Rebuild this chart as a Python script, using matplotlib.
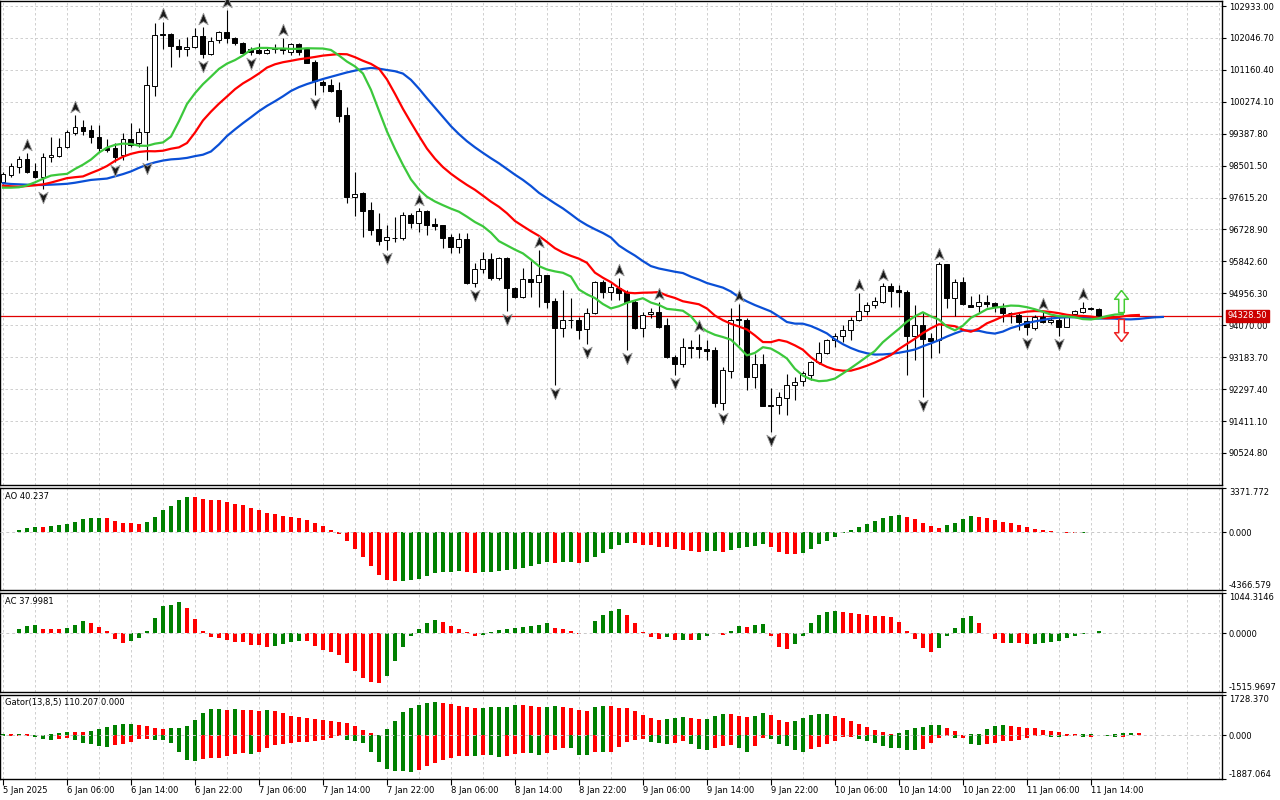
import numpy as np
import pandas as pd
import matplotlib
matplotlib.use("Agg")
import matplotlib.pyplot as plt
from matplotlib.path import Path
from matplotlib import transforms

plt.rcParams['font.family'] = ['DejaVu Sans']

# ---- data (H1 bars from 5 Jan 2025 22:00) ----
start_time = "2025-01-05 22:00"

opens = [98048, 98242, 98464, 98686, 98353, 98187, 98742, 98770, 99019, 99408,
         99575, 99491, 99297, 98992, 98992, 98797, 99241, 99130, 99436, 100713,
         102156, 102156, 101823, 101740, 101795, 102101, 101601, 101990, 102212, 102045,
         101906, 101740, 101712, 101629, 101740, 101768, 101657, 101879, 101740, 101379,
         100824, 100740, 100602, 99908, 97631, 97742, 97270, 96743, 96438, 96493,
         96493, 97132, 96910, 97243, 96882, 96854, 96521, 96243, 96465, 95244,
         95633, 95910, 95383, 95938, 95105, 94855, 95355, 95272, 95466, 94744,
         93995, 94217, 94217, 93967, 94411, 95272, 94994, 95105, 94994, 94717,
         93995, 94383, 94439, 94078, 93190, 92995, 93440, 93468, 93412, 93384,
         91913, 92801, 94217, 94217, 92635, 92995, 91829, 91857, 92051, 92412,
         92524, 92690, 93051, 93301, 93662, 93773, 93939, 94217, 94467, 94633,
         94717, 95161, 95050, 94994, 93773, 94078, 93717, 93662, 95772, 94828,
         95272, 94633, 94606, 94717, 94689, 94550, 94411, 94356, 94189, 93995,
         94300, 94161, 94217, 94023, 94383, 94439, 94550, 94522]
highs = [98325, 98575, 98770, 98853, 98575, 98853, 99297, 99269, 99491, 99908,
         99769, 99630, 99630, 99241, 99130, 99408, 99686, 99547, 101268, 102462,
         102489, 102184, 102017, 102073, 102323, 102350, 102073, 102239, 102822, 102073,
         101934, 101795, 101906, 101795, 101879, 102045, 101906, 101906, 101768, 101434,
         100879, 100907, 100824, 100130, 98325, 97770, 97492, 97187, 96854, 97076,
         97215, 97187, 97326, 97270, 97048, 96854, 96604, 96632, 96632, 95799,
         96105, 96077, 95966, 95966, 95133, 95660, 95855, 96160, 95466, 94828,
         95050, 94828, 94300, 94550, 95300, 95327, 95244, 95383, 95050, 94772,
         94439, 94550, 94717, 94272, 93245, 93717, 93662, 93829, 93662, 93468,
         92912, 94550, 94661, 94272, 93273, 93273, 92329, 92218, 92718, 92635,
         92801, 93079, 93606, 93690, 93856, 94078, 94300, 94966, 94717, 94855,
         95244, 95244, 95189, 95050, 94633, 94439, 93856, 95827, 95772, 95355,
         95411, 94883, 94939, 94911, 94717, 94689, 94439, 94411, 94300, 94356,
         94439, 94300, 94300, 94356, 94494, 94717, 94578, 94550]
lows = [97992, 98187, 98297, 98297, 98159, 97853, 98603, 98742, 98992, 99352,
        99352, 99130, 98880, 98880, 98603, 98658, 99019, 99019, 98658, 100435,
        101740, 101240, 101518, 101545, 101768, 101490, 101573, 101906, 101906, 101851,
        101615, 101573, 101601, 101601, 101629, 101601, 101573, 101573, 101337, 100463,
        100546, 100546, 99713, 97465, 97104, 96521, 96576, 96299, 96160, 96382,
        96438, 96771, 96660, 96576, 96715, 96216, 96077, 96077, 95216, 95133,
        95522, 95327, 95327, 94467, 94828, 94828, 94855, 94578, 94550, 92412,
        93745, 93995, 93689, 93551, 94383, 94828, 94772, 94772, 93384, 93967,
        93745, 94272, 93995, 93162, 92690, 92912, 93162, 93162, 93107, 91802,
        91719, 92607, 93523, 92274, 92329, 91829, 91108, 91608, 91580, 91996,
        92385, 92551, 92995, 93273, 93468, 93606, 93662, 94189, 94356, 94550,
        94689, 94578, 94578, 92690, 93107, 92079, 93162, 93301, 94550, 94328,
        94633, 94578, 94439, 94578, 94439, 94161, 94133, 93939, 93800, 93939,
        94133, 94106, 93773, 94023, 94300, 94411, 94494, 94300]
closes = [98270, 98492, 98686, 98325, 98187, 98742, 98797, 99019, 99436, 99575,
          99464, 99297, 98992, 98936, 98742, 99241, 99075, 99436, 100740, 102128,
          102128, 101823, 101740, 101795, 102101, 101601, 101962, 102212, 102045, 101906,
          101629, 101657, 101629, 101712, 101768, 101712, 101879, 101657, 101351, 100851,
          100740, 100574, 99880, 97631, 97715, 97243, 96715, 96410, 96521, 96479,
          97132, 96910, 97243, 96854, 96826, 96493, 96243, 96465, 95244, 95633,
          95910, 95383, 95938, 95105, 94855, 95355, 95272, 95466, 94717, 93995,
          94217, 94203, 93939, 94411, 95272, 94994, 95133, 94966, 94717, 93995,
          94356, 94439, 94023, 93190, 92995, 93468, 93468, 93412, 93357, 91913,
          92829, 94217, 94244, 92635, 92995, 91829, 91843, 92079, 92412, 92496,
          92746, 93051, 93301, 93662, 93773, 93939, 94217, 94467, 94633, 94744,
          95161, 95022, 94994, 93773, 94078, 93690, 93634, 95772, 94828, 95272,
          94661, 94578, 94717, 94661, 94606, 94411, 94397, 94161, 94023, 94300,
          94161, 94217, 94023, 94300, 94467, 94550, 94522, 94328.5]

# indicator values at the left edge (they depend on bars before the window)
jaw_head = [98012, 97992, 97984, 97973, 97964, 97964, 97973, 97984]
teeth_head = [97945, 97928, 97917, 97937, 97956]
lips_head = [97890, 97890, 97901]
ao_head = [10, 20, 170, 320, 390, 380, 470, 540, 615, 760,
           1010, 1060, 1070, 1060, 860, 690, 680, 670, 790, 1205,
           1720, 2020, 2460, 2680, 2670, 2530, 2460, 2435, 2310, 2165,
           2065, 1870, 1720, 1500]

up_fractals = [3, 9, 20, 25, 28, 35, 52, 67, 77, 82, 87, 92, 107, 110, 117, 130, 135]
down_fractals = [5, 14, 18, 25, 31, 39, 48, 59, 63, 69, 73, 78, 84, 90, 96, 115, 128, 132]

price_ticks = [102933.00, 102046.70, 101160.40, 100274.10, 99387.80, 98501.50, 97615.20,
               96728.90, 95842.60, 94956.30, 94070.00, 93183.70, 92297.40, 91411.10, 90524.80]
last_price = 94328.50
price_range = (89636, 103072)
ao_range = (-4366.579, 3371.772)
ac_range = (-1515.9697, 1044.3146)
gator_range = (-1887.064, 1728.370)
ao_label = "AO 40.237"
ac_label = "AC 37.9981"
gator_label = "Gator(13,8,5) 110.207 0.000"

# ---- Bill Williams indicators from the bars ----
o = np.array(opens, float); h = np.array(highs, float)
l = np.array(lows, float); c = np.array(closes, float)
n = len(c)
idx = np.arange(n)
median = (h + l) / 2
med = pd.Series(median)

def alligator_line(head, period, shift):
    # smoothed MA of the median price, shifted forward by `shift` bars
    out = np.full(n + 8, np.nan)
    out[:len(head)] = head
    for i in range(n):
        k = i + shift
        out[k] = (out[k - 1] * (period - 1) + median[i]) / period
    return out

jaw_at = alligator_line(jaw_head, 13, 8)
teeth_at = alligator_line(teeth_head, 8, 5)
lips_at = alligator_line(lips_head, 5, 3)
npos = n + 8

ao_calc = (med.rolling(5).mean() - med.rolling(34).mean()).to_numpy()
ao = ao_calc.copy()
ao[:len(ao_head)] = ao_head
ac = ao - pd.Series(ao).rolling(5, min_periods=1).mean().to_numpy()

g_up = np.abs(jaw_at - teeth_at)
g_dn = -np.abs(teeth_at - lips_at)

GREEN, RED = '#008000', '#ff0000'

def signed_colors(v):
    return [GREEN] + [GREEN if v[i] > v[i - 1] else RED for i in range(1, len(v))]

def gator_colors(v):
    v = np.abs(v)
    return [GREEN] + [GREEN if v[i] > v[i - 1] else RED for i in range(1, len(v))]

# ---- figure ----
fig = plt.figure(figsize=(12.8, 8.0), dpi=100)
W = 1222 / 1280

def rect(top, bottom):
    return [0.0, 1 - bottom / 800, W, (bottom - top) / 800]

ax = fig.add_axes(rect(1, 485))
ax_ao = fig.add_axes(rect(488, 590))
ax_ac = fig.add_axes(rect(593, 692))
ax_g = fig.add_axes(rect(695, 779))

grid_kw = dict(color='#c8c8c8', lw=0.6, ls=(0, (3, 3)), zorder=0)
for a in (ax, ax_ao, ax_ac, ax_g):
    a.set_xlim(-0.375, 152.4)
    for k in range(0, 153, 4):
        a.axvline(k, **grid_kw)
    for s in a.spines.values():
        s.set_color('black'); s.set_linewidth(1)
    a.yaxis.tick_right()
    a.tick_params(axis='y', direction='out', length=3, width=0.8, labelsize=6, pad=2)
    a.tick_params(axis='x', bottom=False, labelbottom=False)

# main price panel
ax.set_ylim(*price_range)
for p in price_ticks:
    ax.axhline(p, **grid_kw)
ax.set_yticks(price_ticks)
ax.set_yticklabels([f"{p:.2f}" for p in price_ticks])

ax.vlines(idx, l, h, color='black', lw=0.8, zorder=2)
bull = c >= o
ax.bar(idx, np.maximum(np.abs(c - o), 8), bottom=np.minimum(o, c), width=0.62,
       color=np.where(bull, 'white', 'black'), edgecolor='black', lw=0.7, zorder=3)

pos = np.arange(npos)
ax.plot(pos, jaw_at, color='#0a4fd6', lw=1.6, zorder=4)
ax.plot(pos, teeth_at, color='#ff0000', lw=1.6, zorder=4)
ax.plot(pos, lips_at, color='#3cc83c', lw=1.6, zorder=4)

ax.axhline(last_price, color='#e00000', lw=0.9, zorder=1)

up_path = Path([(0, 1), (0.75, -0.85), (0, -0.35), (-0.75, -0.85), (0, 1)],
               [Path.MOVETO, Path.LINETO, Path.LINETO, Path.LINETO, Path.CLOSEPOLY])
dn_path = Path([(0, -1), (0.75, 0.85), (0, 0.35), (-0.75, 0.85), (0, -1)],
               [Path.MOVETO, Path.LINETO, Path.LINETO, Path.LINETO, Path.CLOSEPOLY])
up_tr = transforms.offset_copy(ax.transData, fig=fig, y=8, units='dots')
dn_tr = transforms.offset_copy(ax.transData, fig=fig, y=-8, units='dots')
ax.plot(up_fractals, h[up_fractals], ls='none', marker=up_path, ms=9, mfc='#1a1a1a',
        mec='#9a9a9a', mew=0.6, transform=up_tr, zorder=5, clip_on=False)
ax.plot(down_fractals, l[down_fractals], ls='none', marker=dn_path, ms=9, mfc='#1a1a1a',
        mec='#9a9a9a', mew=0.6, transform=dn_tr, zorder=5, clip_on=False)

arrow_up = Path([(0, 1), (0.62, 0.2), (0.25, 0.2), (0.25, -1), (-0.25, -1),
                 (-0.25, 0.2), (-0.62, 0.2), (0, 1)])
arrow_dn = Path([(0, -1), (0.62, -0.2), (0.25, -0.2), (0.25, 1), (-0.25, 1),
                 (-0.25, -0.2), (-0.62, -0.2), (0, -1)])
arrow_x = n + 1.75
ax.plot([arrow_x], [last_price], marker=arrow_up, ms=16, mfc='white', mec='#44cc33', mew=1.1,
        transform=transforms.offset_copy(ax.transData, fig=fig, y=15, units='dots'), zorder=6)
ax.plot([arrow_x], [last_price], marker=arrow_dn, ms=16, mfc='white', mec='#ee2222', mew=1.1,
        transform=transforms.offset_copy(ax.transData, fig=fig, y=-14, units='dots'), zorder=6)

ax.text(1.0045, last_price, f"{last_price:.2f}", transform=ax.get_yaxis_transform(),
        color='white', fontsize=6, va='center', ha='left', zorder=10, clip_on=False,
        bbox=dict(boxstyle='square,pad=0.18', fc='#cc0000', ec='#cc0000'))

# oscillator panels
def osc_panel(a, yr, fmt, label):
    a.axhline(0, color='#c8c8c8', lw=0.7, ls=(0, (3, 3)), zorder=3)
    a.set_ylim(*yr)
    a.set_yticks([yr[1], 0, yr[0]])
    a.set_yticklabels([fmt.format(yr[1]), fmt.format(0), fmt.format(yr[0])])
    labs = a.get_yticklabels()
    labs[0].set_va('top'); labs[2].set_va('bottom')
    a.text(0.004, 0.96, label, transform=a.transAxes, fontsize=6, va='top', ha='left')

ax_ao.bar(idx, ao, width=0.5, color=signed_colors(ao), zorder=2)
osc_panel(ax_ao, ao_range, "{:.3f}", ao_label)

ax_ac.bar(idx, ac, width=0.5, color=signed_colors(ac), zorder=2)
osc_panel(ax_ac, ac_range, "{:.4f}", ac_label)

ok_up = ~np.isnan(g_up)
ok_dn = ~np.isnan(g_dn)
ax_g.bar(pos[ok_up], g_up[ok_up], width=0.5, color=gator_colors(g_up[ok_up]), zorder=2)
ax_g.bar(pos[ok_dn], g_dn[ok_dn], width=0.5, color=gator_colors(g_dn[ok_dn]), zorder=2)
osc_panel(ax_g, gator_range, "{:.3f}", gator_label)

# time axis
times = pd.date_range(start_time, periods=n, freq='h')
tick_bars = list(range(0, n, 8))
tick_labels = [f"{times[b].day} {times[b]:%b %Y}" if b == 0 else f"{times[b].day} {times[b]:%b %H:%M}"
               for b in tick_bars]
ax_g.set_xticks(tick_bars)
ax_g.set_xticklabels(tick_labels)
ax_g.tick_params(axis='x', bottom=True, labelbottom=True, direction='out', length=4,
                 width=0.8, labelsize=6, pad=1)
for lbl in ax_g.get_xticklabels():
    lbl.set_ha('left')

fig.savefig("out.png", dpi=100)
